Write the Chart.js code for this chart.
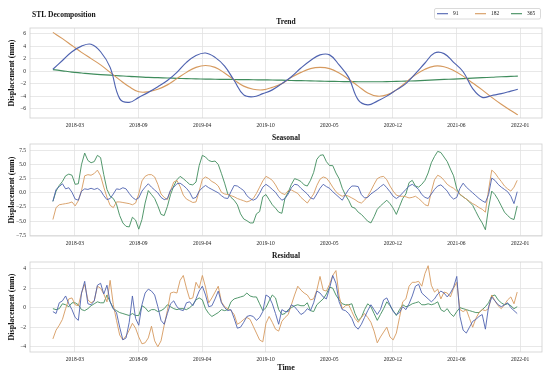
<!DOCTYPE html>
<html><head><meta charset="utf-8">
<script src="https://cdn.jsdelivr.net/npm/chart.js@4"></script>
<style>
html,body{margin:0;padding:0;background:#fff;}
#wrap{position:relative;width:550px;height:377px;overflow:hidden;background:#fff;}
.panel{position:absolute;left:0;width:550px;}
canvas{display:block;}
</style></head><body>
<div id="wrap">
  <div class="panel" style="top:0;height:132px"><canvas id="c1" width="550" height="132"></canvas></div>
  <div class="panel" style="top:132px;height:118px"><canvas id="c2" width="550" height="118"></canvas></div>
  <div class="panel" style="top:250px;height:127px"><canvas id="c3" width="550" height="127"></canvas></div>
</div>
<script>
// ---------- data ----------
const seriesNames = ['91', '182', '365'];
const tickLabels = ['2018-03','2018-09','2019-04','2019-10','2020-05','2020-12','2021-06','2022-01'];
const tickDays = [69, 269, 469, 669, 869, 1069, 1269, 1469];   // days after first sample
const trendTicks = [-6, -4, -2, 0, 2, 4, 6];
const seasonalTicks = [-7.5, -5, -2.5, 0, 2.5, 5, 7.5];
const residualTicks = [-4, -2, 0, 2, 4];
const trendStep = 30, noisyStep = 10, lastDay = 1462;

// trend: one value every 30 days
const trend91 = [0.3,1.7,3.1,4.0,4.3,3.1,0.6,-4.4,-5.0,-4.2, -3.4,-2.5,-1.5,-0.2,1.4,2.5,2.9,2.2,0.8,-1.5,
  -3.8,-4.1,-3.6,-3.0,-2.0,-0.9,0.5,1.7,2.6,2.6, 1.0,-1.0,-4.6,-5.4,-4.8,-4.0,-3.0,-2.0,-0.4,1.3,
  2.9,2.8,1.4,-0.1,-2.8,-4.2,-3.9,-3.6,-3.2,-2.9];
const trend182 = [6.2,5.2,4.1,3.0,2.0,1.0,-0.2,-1.4,-2.5,-3.3, -3.3,-2.9,-2.2,-1.2,-0.2,0.6,0.9,0.6,-0.3,-1.4,
  -2.4,-2.9,-3.0,-2.6,-2.0,-1.0,-0.2,0.4,0.6,0.4, -0.3,-1.3,-2.4,-3.5,-4.0,-3.8,-3.0,-1.8,-0.6,0.3,
  0.8,0.7,0.1,-0.8,-1.9,-3.0,-4.2,-5.3,-6.3,-7.0];
const trend365 = [0.25,0.05,-0.15,-0.3,-0.45,-0.55,-0.65,-0.75,-0.85,-0.92, -1.0,-1.05,-1.1,-1.15,-1.2,-1.24,-1.27,-1.3,-1.32,-1.34,
  -1.36,-1.38,-1.4,-1.42,-1.45,-1.5,-1.53,-1.56,-1.6,-1.63, -1.66,-1.68,-1.7,-1.7,-1.7,-1.68,-1.65,-1.6,-1.55,-1.48,
  -1.4,-1.33,-1.27,-1.2,-1.12,-1.05,-0.98,-0.9,-0.85,-0.8];

// seasonal and residual: one value every 10 days
const seasonal91 = [
  -1.5,0.6,1.1,1.6,0.7,0.9,0.1,-1.1,-1.3,0.3,
  0.7,0.6,0.8,0.6,0.8,0.4,-0.5,-1.2,-1.0,-0.2,
  0.7,0.6,0.9,0.7,-0.1,-0.8,-1.2,-0.9,0.3,1.0,
  1.6,1.0,0.5,0,-0.8,-1.2,-1.0,0.5,1.0,1.6,
  1.7,1.3,0.8,0.1,-1.0,-0.8,0.3,0.9,1.3,0.9,
  0.6,0.3,0,-0.5,-0.9,-1.0,0.2,1.3,1.2,0.8,
  0.4,-0.5,-1.0,-1.3,-1.0,-0.1,1.0,1.5,1.1,0.6,
  0.1,-0.7,-1.3,-1.0,-0.2,0.9,1.5,1.4,0.8,0.3,
  -0.2,-0.9,-1.1,-0.2,0.8,1.5,1.1,0.8,0.2,-0.3,
  -0.8,-1.3,-0.3,0.6,1.2,1.2,1.1,-0.3,-0.9,-0.8,
  -0.2,0.2,0.6,1.1,1.5,0.9,0.2,-0.6,-1.0,-0.6,
  0,0.6,1.2,1.5,1.1,0.6,-0.3,-0.8,-1.0,-0.2,
  0.6,1.2,1.4,0.9,0.3,-0.6,-1.1,-0.8,0.8,1.7,
  1.0,0.5,0,-0.5,-1.0,-1.4,-1.7,-0.3,2.6,2.2,
  1.5,1.0,0.6,0.2,-0.6,-1.9,0.2];
const seasonal182 = [
  -4.7,-2.6,-2.1,-2.0,-1.9,-1.8,-1.6,-2.3,-1.4,0.4,
  3.0,3.2,3.1,3.4,4.0,3.0,1.0,-0.8,-2.2,-2.6,
  -1.6,-1.6,-1.7,-1.8,-1.9,-2.1,-1.8,-0.2,2.1,2.9,
  3.2,3.2,2.8,1.5,-0.2,-0.8,-1.2,0.4,1.9,2.2,
  1.1,-0.4,-1.1,-1.4,-1.7,-1.6,0.3,2.4,2.8,2.5,
  2.0,1.7,1.2,0.1,-0.2,-0.3,-0.5,-0.7,-1.0,-1.2,
  -1.4,-1.6,-1.4,-1.0,-0.1,1.0,2.1,2.9,2.6,2.2,
  1.4,0.4,-0.1,-0.3,0.4,0.5,0.2,-0.1,-0.8,-1.3,
  -1.8,-1.0,-0.2,1.3,2.4,2.8,2.6,1.9,1.0,0.2,
  -0.3,-0.6,-0.4,-0.6,-0.9,-1.2,-1.6,-1.8,-1.3,-0.6,
  0.4,1.5,2.5,2.8,2.9,2.3,1.2,0.3,-0.4,-0.6,
  -0.6,-0.7,-0.9,-0.8,-0.6,-1.0,-1.5,-2.1,-2.3,0.2,
  2.3,3.1,2.8,2.2,1.5,1.1,0.8,0.3,-0.2,-0.7,
  -1.1,-1.5,-1.9,-2.2,-2.6,-2.9,-3.4,0.5,4.0,3.5,
  2.7,2.0,1.2,0.7,0.3,1.0,2.2];
const seasonal365 = [
  -1.5,0.3,1.3,2.0,3.0,3.3,3.1,1.5,1.6,5.0,
  7.0,5.7,5.3,5.5,6.6,6.2,3.2,0.6,-0.6,-1.0,
  -2.0,-4.0,-5.3,-5.9,-6.0,-4.3,-4.8,-6.4,-4.7,-1.8,
  0.4,-0.3,-1.0,-2.3,-3.8,-4.0,-2.4,-0.3,1.2,2.3,
  2.9,2.5,2.0,1.5,1.4,1.9,4.8,6.6,6.3,5.7,
  5.5,5.6,5.0,3.4,1.7,-0.2,-0.8,-1.3,-2.1,-3.7,
  -4.6,-4.9,-5.3,-5.3,-3.7,-3.3,-0.7,-0.3,-1.2,-2.1,
  -2.7,-3.4,-3.6,-0.9,0.1,1.5,2.5,2.3,2.0,1.4,
  1.2,2.2,3.6,5.9,6.6,6.7,5.5,4.8,4.8,3.5,
  2.5,0.8,-0.4,-1.3,-2.5,-2.7,-3.4,-3.8,-4.4,-5.0,
  -5.3,-4.2,-2.9,-2.3,-1.8,-1.3,-1.9,-2.7,-3.8,-2.4,
  -1.0,-0.2,1.8,2.2,1.2,1.0,1.5,2.2,3.5,5.3,
  6.4,7.3,7.1,6.3,5.5,4.2,3.0,0.7,-0.3,-0.7,
  -1.1,-1.6,-2.2,-3.3,-4.4,-5.3,-6.5,-2.6,0.3,-0.3,
  -1.2,-2.3,-3.4,-4.0,-4.5,-4.7,-2.3];

const residual91 = [
  -0.4,-0.6,0.5,0.7,1.2,0.4,-0.2,-1.0,-1.3,1.5,
  2.7,0.4,0.3,0.7,2.3,2.5,1.4,2.3,0.6,-0.1,
  -0.5,-2.0,-3.3,-3.1,-1.5,1.2,-1.1,-1.8,0.3,1.5,
  1.9,1.7,1.3,0.1,-1.3,-1.7,-0.6,0.4,0.7,0.1,
  -0.2,-0.3,0.5,0.6,0.2,0.9,1.7,2.2,1.3,0.1,
  0.2,0.9,1.7,0.5,0,-0.3,-0.2,-1.1,-2.1,-2.0,
  -1.5,-0.9,-0.8,-0.9,-1.3,-1.0,-0.4,1.3,1.1,0.4,
  -0.6,-1.7,-0.2,-0.4,-0.4,0.3,0.1,-0.3,-0.7,-0.5,
  -0.1,-0.3,0.5,1.7,1.5,1.1,0.9,2.0,3.3,2.5,
  0.6,-0.2,-0.3,-0.6,-1.1,-1.9,-2.2,-1.7,-1.0,-0.3,
  0.3,-0.2,-0.7,-0.2,0.8,1.0,0.3,-0.4,-0.7,-0.5,
  0.1,-0.2,0.4,1.2,2.2,2.4,1.5,1.2,0.9,0.6,
  0.9,1.4,1.7,1.5,1.1,1.5,2.1,3.2,-0.9,-2.3,
  -2.6,-2.0,-1.4,-1.2,-0.9,-0.7,-2.2,0.1,1.1,0.7,
  0.3,0.1,0.3,0.5,0,-0.3,-0.6];
const residual182 = [
  -3.2,-2.3,-1.8,-1.2,-0.1,0.9,1.0,0.3,0.2,1.5,
  2.4,0.8,0.5,0.7,2.2,2.0,1.4,0.6,2.8,0.3,
  -1.3,-2.8,-3.3,-2.9,-2.3,-1.6,-2.1,-3.0,-3.7,-3.6,
  -3.1,-1.9,-3.4,-4.0,-3.4,-1.8,-0.3,1.5,1.6,1.5,
  2.8,3.3,2.0,0.9,1.0,2.6,2.0,3.3,2.1,0.5,
  1.0,1.6,2.2,0.6,0.1,-0.1,-0.3,-0.7,-1.7,-1.5,
  -1.2,-1.0,-1.2,-1.9,-2.6,-3.3,-3.5,-1.6,-0.9,-1.5,
  -2.2,-2.4,-1.4,-1.0,-0.7,0.3,1.3,2.2,1.8,1.5,
  1.3,0.8,0.9,1.8,3.2,1.8,1.7,2.4,3.3,3.8,
  1.2,-0.1,0.2,0.3,-0.4,-1.1,-1.5,-1.0,-0.6,-1.0,
  -1.5,-2.4,-3.6,-3.0,-2.5,-2.0,-3.0,-3.3,-2.6,-1.0,
  0.6,0.9,2.2,2.6,2.6,2.7,2.2,3.5,4.3,2.3,
  1.6,1.9,0.9,1.6,1.5,1.1,2.0,2.6,-0.2,-0.4,
  -0.2,-1.1,-2.0,-1.1,-0.5,-0.2,-0.3,-0.1,1.3,0.7,
  0.2,-0.1,0.3,0.8,1.1,0.4,1.6];
const residual365 = [
  -0.1,-0.2,-0.1,0.4,0.3,0.1,0.5,0.5,0.3,-0.2,
  -0.3,-0.1,0.2,0.4,0.6,0.5,0.5,1.3,0.6,-0.1,
  -0.3,-0.5,-0.6,-0.7,-0.8,-0.6,-0.8,-0.8,0.2,0,
  -0.4,-0.2,-0.2,-0.4,-0.3,-0.1,0.3,0.1,-0.1,-0.2,
  -0.1,-0.1,-0.2,0,0.3,0.8,1.0,0.8,-0.1,-0.6,
  -0.9,-0.7,-0.5,-0.2,-0.3,-0.2,0.6,0.9,1.0,1.1,
  1.2,1.5,1.2,1.1,1.1,0.4,-0.3,0,0.7,1.3,
  1.0,-0.2,-0.7,-0.6,-0.2,0,0.2,0.3,0.2,0.2,
  0.5,-0.3,-0.4,0.3,0.6,0.9,1.4,2.1,2.0,1.3,
  0.8,0.4,0.3,0.3,0.4,-0.6,-1.3,-1.0,-0.2,0.4,
  0.1,-0.6,-1.3,-0.7,-0.1,0.6,0.2,-0.3,-0.8,-0.2,
  0.3,0.1,0.2,0.4,0.5,0.6,0.3,0.3,0.4,0.3,
  0.4,0.6,-0.2,-0.4,-0.1,-0.6,-0.9,-0.4,0,-0.1,
  -0.2,-0.3,-0.4,-0.5,-0.5,-0.2,0.1,0.5,1.2,1.3,
  0.8,0.5,0.3,0.4,0.2,-0.1,0.1];

// ---------- styling ----------
const FONT = "'Liberation Serif','Times New Roman',serif";
const COLORS = ['#4f63b0', '#d69a5f', '#3f8c5c'];
const GRID = '#e2e2e2';
const FRAME = '#cfcfcf';

const toPts = (vals, step) => vals.map((v, i) => ({x: Math.min(i * step, lastDay), y: v}));
const fmt = (v, dec) => { const s = Math.abs(v).toFixed(dec); return v < 0 ? '\u2212' + s : s; };

const framePlugin = {
  id: 'frame',
  afterDatasetsDraw(chart) {
    const {ctx, chartArea: a} = chart;
    ctx.save();
    ctx.strokeStyle = FRAME; ctx.lineWidth = 0.8;
    ctx.strokeRect(a.left, a.top, a.right - a.left, a.bottom - a.top);
    ctx.restore();
  }
};
const textPlugin = {
  id: 'panelText',
  afterDraw(chart, args, o) {
    const {ctx, chartArea: a} = chart;
    ctx.save();
    ctx.fillStyle = '#111';
    ctx.textBaseline = 'middle';
    ctx.font = `bold 7.5px ${FONT}`;
    ctx.textAlign = 'center';
    ctx.fillText(o.title, (a.left + a.right) / 2, o.titleY);
    if (o.figTitle) {
      ctx.textAlign = 'left';
      ctx.fillText(o.figTitle, 32, 15.5);
    }
    if (o.legend) {
      ctx.fillStyle = 'rgba(255,255,255,0.85)';
      ctx.strokeStyle = '#d0d0d0'; ctx.lineWidth = 0.8;
      ctx.beginPath();
      ctx.roundRect(434.5, 8.5, 106, 10.5, 1.5);
      ctx.fill(); ctx.stroke();
      const xs = [437, 475, 511];
      chart.data.datasets.forEach((ds, i) => {
        ctx.strokeStyle = ds.borderColor; ctx.lineWidth = 1.1;
        ctx.beginPath(); ctx.moveTo(xs[i], 13.7); ctx.lineTo(xs[i] + 11, 13.7); ctx.stroke();
        ctx.fillStyle = '#222'; ctx.font = `5.5px ${FONT}`; ctx.textAlign = 'left';
        ctx.fillText(ds.label, xs[i] + 16, 13.9);
      });
    }
    ctx.restore();
  }
};

function makePanel(id, seriesList, step, yTicks, yMin, yMax, dec, cfg) {
  const smooth = step === trendStep;
  new Chart(document.getElementById(id), {
    type: 'line',
    data: {
      datasets: seriesList.map((vals, i) => ({
        label: seriesNames[i],
        data: toPts(vals, step),
        borderColor: COLORS[i],
        backgroundColor: COLORS[i],
        borderWidth: smooth ? 1.15 : 0.9,
        pointRadius: 0,
        tension: smooth ? 0.4 : 0
      }))
    },
    options: {
      responsive: false, animation: false, devicePixelRatio: 1,
      layout: {padding: {left: 0, right: 8, top: cfg.top, bottom: 0}},
      plugins: {
        legend: {display: false}, tooltip: {enabled: false},
        panelText: {title: cfg.title, titleY: cfg.titleY, figTitle: cfg.figTitle, legend: cfg.legend}
      },
      scales: {
        x: {
          type: 'linear', min: -72, max: 1538,
          afterBuildTicks: s => { s.ticks = tickDays.map(v => ({value: v})); },
          afterFit: s => { s.height = cfg.xh; },
          ticks: {autoSkip: false, maxRotation: 0, minRotation: 0, padding: 4, color: '#222',
                  font: {family: FONT, size: 5.5}, callback: (v, i) => tickLabels[i]},
          grid: {color: GRID, lineWidth: 0.8, drawTicks: false},
          border: {display: false},
          title: cfg.xTitle ? {display: true, text: cfg.xTitle, color: '#111',
                  font: {family: FONT, size: 8, weight: 'bold'}, padding: {top: 0, bottom: 4}} : {display: false}
        },
        y: {
          type: 'linear', min: yMin, max: yMax,
          afterBuildTicks: s => { s.ticks = yTicks.map(v => ({value: v})); },
          afterFit: s => { s.width = 30; },
          ticks: {padding: 4, color: '#222', font: {family: FONT, size: 5.5}, callback: v => fmt(v, dec)},
          grid: {color: GRID, lineWidth: 0.8, drawTicks: false},
          border: {display: false},
          title: {display: true, text: 'Displacement (mm)', color: '#111',
                  font: {family: FONT, size: 8, weight: 'bold'}, padding: {top: 7, bottom: 0}}
        }
      }
    },
    plugins: [framePlugin, textPlugin]
  });
}

makePanel('c1', [trend91, trend182, trend365], trendStep, trendTicks, -7.5, 6.9, 0,
  {top: 28, xh: 14, title: 'Trend', titleY: 22, figTitle: 'STL Decomposition', legend: true});
makePanel('c2', [seasonal91, seasonal182, seasonal365], noisyStep, seasonalTicks, -7.6, 8.6, 1,
  {top: 12, xh: 14, title: 'Seasonal', titleY: 6.5});
makePanel('c3', [residual91, residual182, residual365], noisyStep, residualTicks, -4.54, 4.68, 0,
  {top: 12, xh: 25, title: 'Residual', titleY: 5.8, xTitle: 'Time'});
</script>
</body></html>
